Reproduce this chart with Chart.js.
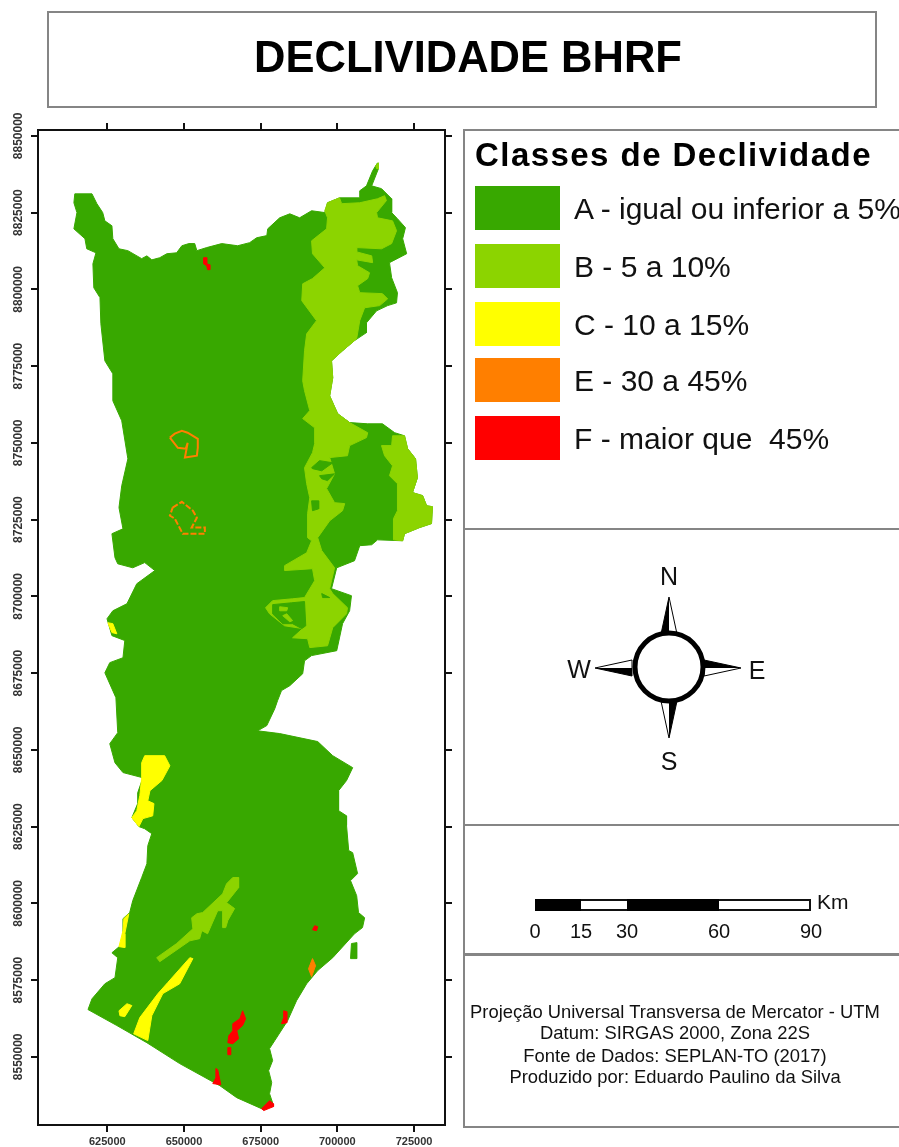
<!DOCTYPE html>
<html lang="pt">
<head>
<meta charset="utf-8">
<title>Declividade BHRF</title>
<script src="https://cdn.jsdelivr.net/npm/chart.js@4/dist/chart.umd.min.js"></script>
<style>
html, body { margin: 0; padding: 0; background: #fff; }
#page { position: relative; width: 899px; height: 1147px; overflow: hidden; font-family: "Liberation Sans", Arial, sans-serif; color: #111; filter: blur(0.4px); }
#page canvas { position: absolute; left: 0; top: 0; }
.box { position: absolute; box-sizing: border-box; border: 2px solid #858585; background: transparent; }
.txt { position: absolute; white-space: nowrap; line-height: 1; }
.swatch { position: absolute; left: 475px; width: 85px; height: 44px; }
.mid { transform: translate(-50%, -50%); }
</style>
</head>
<body>
<div id="page">
    <canvas id="mapa" width="899" height="1147"></canvas>
    <div class="box" style="left:47px;top:11px;width:830px;height:97px"></div>
    <div class="txt mid" style="left:468px;top:58px;font-size:43.5px;font-weight:bold;color:#000">DECLIVIDADE BHRF</div>
    <div class="box" style="left:463px;top:129px;width:460px;height:999px"></div>
    <div class="box" style="left:463px;top:528px;width:460px;height:2px;border-width:1px 0"></div>
    <div class="box" style="left:463px;top:824px;width:460px;height:2px;border-width:1px 0"></div>
    <div class="box" style="left:463px;top:953px;width:460px;height:3px;border-width:2px 0 1px"></div>
    <div id="legenda"></div>
    <svg style="position:absolute;left:0;top:0" width="899" height="1147">
        <g stroke="#000" stroke-width="1" fill="#fff">
            <path d="M669 597 L661 634 L677 634 Z"/>
            <path d="M669 738 L661 701 L677 701 Z"/>
            <path d="M595 668 L632 660 L632 676 Z"/>
            <path d="M741 668 L704 660 L704 676 Z"/>
        </g>
        <g fill="#000">
            <path d="M669 597 L661 634 L669 634 Z"/>
            <path d="M669 738 L677 701 L669 701 Z"/>
            <path d="M595 668 L632 676 L632 668 Z"/>
            <path d="M741 668 L704 660 L704 668 Z"/>
        </g>
        <circle cx="669" cy="667" r="34" fill="#fff" stroke="#000" stroke-width="5"/>
    </svg>
    <div class="txt mid" style="left:669px;top:576px;font-size:25px">N</div>
    <div class="txt mid" style="left:669px;top:761px;font-size:25px">S</div>
    <div class="txt mid" style="left:579px;top:669px;font-size:25px">W</div>
    <div class="txt mid" style="left:757px;top:670px;font-size:25px">E</div>
    <div id="escala"></div>
    <div class="txt" style="left:817px;top:891px;font-size:21px">Km</div>
    <div id="notas"></div>
</div>

<script>
// Eixos (coordenadas UTM em km)
const xTicks = [625, 650, 675, 700, 725];
const yTicks = [8550, 8575, 8600, 8625, 8650, 8675, 8700, 8725, 8750, 8775, 8800, 8825, 8850];
const xRange = [602.4, 735.1];
const yRange = [8527.8, 8851.9];

// Legenda
const classes = ['A - igual ou inferior a 5%', 'B - 5 a 10%', 'C - 10 a 15%', 'E - 30 a 45%', 'F - maior que  45%'];
const classColors = ['#38a800', '#8cd400', '#ffff00', '#ff7f00', '#ff0000'];
const scaleStops = [0, 15, 30, 60, 90];
const notes = ['Projeção Universal Transversa de Mercator - UTM', 'Datum: SIRGAS 2000, Zona 22S', 'Fonte de Dados: SEPLAN-TO (2017)', 'Produzido por: Eduardo Paulino da Silva'];

// Classe A - contorno da bacia
const contorno = [[614.4,8831.1],[620.0,8831.1],[621.6,8827.9],[623.5,8825.0],[624.2,8822.3],[626.5,8820.7],[626.8,8816.5],[628.8,8813.2],[631.7,8812.6],[636.2,8810.0],[637.9,8810.9],[639.5,8809.6],[642.1,8810.3],[644.4,8811.6],[647.6,8811.9],[649.3,8814.2],[651.6,8814.9],[653.5,8814.9],[654.2,8812.6],[657.4,8813.6],[662.3,8814.9],[667.5,8814.2],[671.4,8815.2],[673.7,8816.8],[677.0,8817.5],[677.3,8819.7],[681.2,8823.3],[684.5,8824.6],[687.7,8823.3],[691.6,8825.6],[695.9,8825.0],[696.8,8828.2],[700.7,8829.8],[707.3,8829.8],[707.3,8832.1],[709.5,8833.7],[711.5,8838.6],[713.1,8841.2],[713.4,8839.3],[711.2,8833.7],[714.4,8832.8],[717.7,8829.5],[717.7,8825.0],[719.6,8823.0],[722.2,8820.1],[721.3,8816.5],[722.6,8811.6],[717.0,8808.7],[717.7,8803.8],[719.6,8798.9],[719.3,8795.6],[716.4,8794.7],[712.8,8793.0],[709.5,8789.1],[709.5,8785.9],[705.6,8783.3],[701.7,8780.0],[698.1,8776.7],[698.5,8771.2],[697.5,8765.3],[700.1,8759.5],[704.0,8756.6],[709.9,8756.2],[714.7,8756.2],[718.7,8753.3],[721.9,8752.3],[722.9,8748.1],[725.5,8744.8],[726.1,8738.6],[724.5,8733.8],[727.8,8732.8],[729.1,8729.5],[731.0,8729.2],[730.7,8723.7],[726.8,8722.4],[721.9,8720.4],[721.3,8718.1],[713.1,8718.4],[711.2,8716.8],[707.3,8716.5],[705.6,8711.6],[699.8,8709.3],[698.1,8702.5],[704.6,8700.2],[704.0,8695.3],[701.7,8691.1],[699.8,8682.3],[691.6,8680.7],[689.3,8679.0],[688.7,8674.8],[684.5,8670.9],[681.8,8669.3],[680.5,8666.0],[679.6,8663.4],[677.0,8657.9],[674.0,8656.2],[681.2,8655.3],[693.6,8652.7],[698.5,8648.1],[705.0,8644.2],[703.0,8640.0],[700.4,8636.7],[700.4,8630.2],[703.0,8628.5],[703.0,8625.3],[703.7,8617.2],[705.0,8616.5],[706.6,8609.7],[704.3,8607.4],[706.3,8602.5],[706.9,8597.0],[708.9,8595.3],[708.2,8592.1],[705.6,8590.1],[698.5,8582.3],[693.6,8578.1],[690.0,8573.8],[686.7,8568.3],[683.8,8561.8],[679.6,8555.3],[677.9,8552.7],[678.9,8548.8],[677.6,8545.5],[678.6,8541.6],[677.9,8538.0],[679.2,8534.1],[676.0,8532.8],[667.2,8536.7],[661.7,8540.6],[648.6,8547.8],[637.9,8554.6],[628.1,8560.2],[618.7,8565.4],[620.0,8568.9],[624.2,8573.8],[627.5,8575.8],[628.4,8582.3],[626.5,8583.9],[630.1,8586.9],[630.1,8595.0],[632.3,8597.0],[633.3,8600.9],[636.2,8608.4],[637.9,8612.9],[638.2,8618.8],[639.5,8622.7],[637.2,8624.3],[635.3,8625.0],[633.0,8627.9],[634.9,8632.5],[634.9,8636.0],[636.6,8640.9],[630.1,8642.6],[627.5,8645.8],[625.8,8652.0],[628.4,8655.6],[627.8,8667.0],[624.2,8675.1],[625.8,8678.4],[630.1,8680.0],[630.7,8685.6],[626.5,8687.2],[624.9,8692.7],[626.8,8695.3],[631.4,8697.6],[634.6,8704.1],[640.5,8708.4],[637.2,8711.0],[633.3,8709.3],[628.4,8710.6],[627.5,8712.6],[626.5,8720.4],[630.1,8722.0],[628.8,8728.9],[629.7,8736.0],[631.7,8744.8],[629.7,8757.2],[626.8,8763.7],[626.8,8772.5],[624.2,8776.7],[622.9,8788.8],[622.6,8797.3],[620.6,8800.5],[620.3,8808.3],[621.3,8811.9],[618.3,8813.2],[617.7,8816.5],[614.1,8819.7],[615.1,8825.0],[614.1,8828.2]];
const ilhaLeste = [[704.6,8586.9],[706.3,8587.2],[706.3,8582.0],[704.3,8582.0]];

// Classe B
const faixaNorte = [[696.8,8828.2],[700.7,8829.8],[701.4,8827.9],[707.3,8828.2],[713.1,8829.5],[715.4,8830.5],[716.0,8828.9],[712.8,8825.0],[713.1,8823.3],[718.0,8822.3],[719.3,8819.1],[717.7,8814.9],[714.4,8813.2],[706.3,8813.6],[706.3,8812.2],[711.2,8810.9],[711.5,8808.7],[706.3,8809.6],[706.6,8807.7],[710.5,8805.4],[709.9,8803.5],[706.6,8801.2],[707.3,8798.9],[714.7,8798.6],[716.4,8796.9],[713.8,8794.7],[708.9,8794.0],[707.3,8789.8],[706.3,8783.9],[701.7,8780.0],[698.1,8776.7],[698.5,8771.2],[697.5,8765.3],[700.1,8759.5],[704.0,8756.6],[709.9,8753.3],[709.5,8751.7],[704.0,8749.1],[703.3,8745.8],[697.5,8745.2],[699.1,8739.9],[696.5,8735.1],[699.1,8730.5],[702.4,8730.2],[701.7,8727.9],[697.5,8724.6],[693.6,8719.1],[694.9,8714.9],[699.1,8709.3],[698.1,8705.1],[697.5,8702.5],[698.5,8700.9],[703.3,8696.3],[703.0,8694.3],[698.5,8689.8],[696.8,8683.9],[691.0,8683.3],[690.3,8686.2],[685.4,8686.5],[688.7,8689.5],[682.8,8690.4],[677.9,8694.3],[676.6,8696.3],[678.9,8698.6],[685.4,8699.2],[689.3,8699.6],[692.6,8705.1],[691.9,8709.0],[682.8,8708.4],[682.8,8710.0],[690.0,8714.2],[691.6,8718.1],[690.3,8719.1],[690.3,8726.9],[691.0,8732.1],[690.0,8736.7],[689.3,8741.9],[691.9,8746.8],[692.6,8749.7],[692.6,8754.9],[688.7,8757.9],[691.0,8760.5],[689.3,8767.0],[688.7,8770.2],[689.3,8780.0],[690.0,8785.5],[693.2,8789.8],[688.4,8796.3],[688.7,8801.8],[691.9,8803.5],[695.9,8807.0],[691.9,8811.6],[691.6,8815.8],[696.5,8819.7],[696.8,8823.3],[695.9,8825.6]];
const faixaLeste = [[718.0,8752.3],[721.9,8752.3],[722.9,8748.1],[725.5,8744.8],[726.1,8738.6],[724.5,8733.8],[727.8,8732.8],[729.1,8729.5],[731.0,8729.2],[730.7,8723.7],[726.8,8722.4],[721.9,8720.4],[721.3,8718.1],[718.3,8718.4],[718.3,8725.3],[719.6,8727.9],[719.6,8736.7],[717.0,8739.3],[718.0,8742.5],[715.4,8745.8],[714.4,8749.1],[717.7,8749.1]];
const pontaNorte = [[712.5,8840.3],[713.4,8841.2],[713.4,8839.3],[712.8,8839.3]];
const faixaSul = [[641.1,8582.3],[647.6,8586.9],[652.9,8591.7],[652.5,8595.3],[654.2,8596.6],[656.1,8597.0],[662.6,8603.1],[663.9,8606.4],[665.9,8608.4],[667.8,8608.4],[667.8,8605.1],[663.9,8600.2],[666.5,8598.3],[664.3,8594.4],[663.6,8592.1],[662.6,8592.1],[662.6,8597.6],[661.0,8597.6],[657.7,8590.1],[655.8,8591.1],[655.1,8588.5],[651.9,8587.8],[642.1,8581.0]];
const manchaB1 = [[681.2,8696.6],[683.8,8696.3],[683.5,8695.3],[681.2,8695.3]];
const manchaB2 = [[683.5,8694.3],[685.4,8692.1],[684.5,8691.7],[682.2,8693.7]];

// Classe A dentro da classe B
const miolo1 = [[678.9,8697.3],[685.1,8697.9],[689.3,8698.3],[689.7,8690.4],[688.4,8689.5],[685.4,8691.1],[682.2,8691.1],[678.9,8694.3]];
const miolo2 = [[691.6,8741.9],[694.2,8744.2],[698.5,8743.5],[694.9,8740.9],[691.9,8741.6]];
const miolo3 = [[694.2,8739.3],[699.1,8739.9],[696.8,8737.7],[694.9,8738.3]];
const miolo4 = [[691.6,8731.1],[693.9,8731.1],[693.9,8728.5],[691.9,8727.9]];
const miolo5 = [[694.9,8700.9],[697.5,8699.6],[695.2,8699.6]];

// Classe C
const amarelo1 = [[637.2,8648.1],[643.7,8648.1],[645.4,8644.8],[642.8,8640.0],[638.9,8636.7],[638.2,8633.4],[640.2,8632.5],[639.8,8628.5],[636.6,8627.6],[635.3,8625.0],[633.0,8627.9],[634.6,8630.2],[635.6,8635.1],[636.2,8640.9],[636.2,8645.8]];
const amarelo2 = [[630.4,8595.0],[632.0,8596.6],[630.7,8590.1],[630.7,8585.6],[628.8,8585.9],[630.1,8591.1]];
const amarelo3 = [[628.8,8565.0],[631.4,8567.3],[633.0,8566.7],[630.7,8563.1],[629.1,8563.4]];
const amarelo4 = [[651.9,8582.3],[652.9,8582.0],[648.6,8573.8],[643.1,8570.6],[639.5,8563.4],[638.2,8555.3],[633.6,8557.5],[635.6,8562.8],[641.5,8570.6],[644.7,8574.2]];
const amarelo5 = [[625.2,8691.4],[626.8,8691.1],[628.1,8687.8],[626.5,8688.2]];

// Classe E
const laranja1 = [[691.9,8582.0],[692.9,8579.7],[691.6,8576.1],[690.6,8578.7]];
const anel1 = [[645.4,8751.7],[647.0,8753.0],[649.3,8753.9],[651.2,8753.3],[654.5,8751.3],[654.5,8748.4],[654.2,8745.8],[650.3,8745.2],[651.2,8750.0],[650.6,8748.1],[648.0,8748.4],[645.4,8751.7]];
const anel2 = [[646.3,8728.9],[649.3,8730.8],[652.9,8727.9],[654.2,8725.6],[652.5,8722.4],[656.8,8722.4],[656.8,8720.4],[649.6,8720.4],[647.0,8725.3],[645.4,8726.3],[646.3,8728.9]];

// Classe F
const vermelho0 = [[656.4,8810.3],[657.4,8810.3],[657.4,8808.3],[658.4,8808.0],[658.4,8806.4],[657.7,8806.4],[657.4,8807.7],[656.4,8808.3]];
const vermelho1 = [[669.1,8565.0],[670.1,8562.4],[669.1,8560.2],[667.2,8558.5],[667.8,8555.9],[665.9,8554.3],[664.3,8554.6],[664.6,8556.9],[665.9,8558.5],[665.9,8560.8],[668.2,8562.4]];
const vermelho2 = [[664.3,8553.0],[665.2,8553.0],[665.2,8550.7],[664.3,8550.7]];
const vermelho3 = [[682.5,8565.0],[683.5,8564.7],[683.5,8561.1],[681.8,8560.8],[682.5,8562.8]];
const vermelho4 = [[692.6,8592.7],[693.6,8592.4],[693.2,8591.1],[691.9,8591.4]];
const vermelho5 = [[660.4,8546.2],[661.0,8545.8],[662.0,8540.9],[659.4,8541.3],[660.4,8543.2]];
const vermelho6 = [[677.9,8535.7],[679.2,8534.7],[679.2,8533.8],[676.0,8532.5],[675.3,8533.1]];

// Ordem de pintura: de baixo para cima
const camadas = [
    [contorno, 0], [ilhaLeste, 0],
    [faixaNorte, 1], [faixaLeste, 1], [pontaNorte, 1], [faixaSul, 1],
    [miolo1, 0], [miolo2, 0], [miolo3, 0], [miolo4, 0], [miolo5, 0],
    [manchaB1, 1], [manchaB2, 1],
    [amarelo1, 2], [amarelo2, 2], [amarelo3, 2], [amarelo4, 2], [amarelo5, 2],
    [laranja1, 3],
    [vermelho0, 4], [vermelho1, 4], [vermelho2, 4], [vermelho3, 4], [vermelho4, 4], [vermelho5, 4], [vermelho6, 4]
];
const aneis = [[anel1, []], [anel2, [6, 2]]];

function toPoints(lista) {
    return lista.map(p => ({ x: p[0], y: p[1] }));
}

const datasets = [];
camadas.forEach((c, i) => {
    datasets.push({
        data: toPoints(c[0].concat([c[0][0]])),
        showLine: true,
        fill: 'shape',
        backgroundColor: classColors[c[1]],
        borderColor: classColors[c[1]],
        borderWidth: 1,
        pointRadius: 0,
        order: 100 - i
    });
});
aneis.forEach(a => {
    datasets.push({
        data: toPoints(a[0]),
        showLine: true,
        fill: false,
        borderColor: classColors[3],
        borderWidth: 2,
        borderDash: a[1],
        pointRadius: 0,
        order: 1
    });
});

// Escalas com marcas fixas; as de cima e da direita nao tem rotulo
function axis(position, range, ticks, size, tickFont) {
    return {
        type: 'linear',
        position: position,
        min: range[0],
        max: range[1],
        afterBuildTicks: s => { s.ticks = ticks.map(v => ({ value: v })); },
        afterFit: s => {
            if (s.isHorizontal()) s.height = size; else s.width = size;
        },
        border: { color: '#111', width: 2 },
        grid: { drawOnChartArea: false, color: '#111', lineWidth: 2, tickLength: 7, tickColor: '#111' },
        ticks: tickFont ? {
            autoSkip: false,
            padding: 3,
            color: '#333',
            font: { family: '"Liberation Sans", Arial, sans-serif', size: tickFont, weight: 'bold' },
            callback: v => String(v * 1000)
        } : { display: false }
    };
}

const yAxis = axis('left', yRange, yTicks, 38, 12);
yAxis.ticks.minRotation = 90;
yAxis.ticks.maxRotation = 90;
yAxis.ticks.crossAlign = 'center';
yAxis.ticks.padding = -11.5;

const chart = new Chart(document.getElementById('mapa'), {
    type: 'scatter',
    data: { datasets: datasets },
    options: {
        responsive: false,
        animation: false,
        layout: { padding: 0 },
        plugins: { legend: { display: false }, tooltip: { enabled: false } },
        scales: {
            x: axis('bottom', xRange, xTicks, 22, 11),
            y: yAxis,
            x2: axis('top', xRange, xTicks, 130, 0),
            y2: axis('right', yRange, yTicks, 454, 0)
        }
    }
});

// Legenda
const legenda = document.getElementById('legenda');
const swatchTops = [186, 244, 302, 358, 416];
let html = '<div class="txt" style="left:475px;top:138px;font-size:33px;font-weight:bold;letter-spacing:1.45px;color:#000">Classes de Declividade</div>';
classes.forEach((nome, i) => {
    html += '<div class="swatch" style="top:' + swatchTops[i] + 'px;background:' + classColors[i] + '"></div>';
    html += '<div class="txt" style="left:574px;top:' + (swatchTops[i] + 8) + 'px;font-size:30px;white-space:pre">' + nome + '</div>';
});
legenda.innerHTML = html;

// Barra de escala em km, na mesma escala do mapa
const kmPx = v => chart.scales.x.getPixelForValue(xRange[0] + v) - chart.scales.x.getPixelForValue(xRange[0]);
let barra = '<div style="position:absolute;left:535px;top:899px;width:' + kmPx(90) + 'px;height:12px;box-sizing:border-box;border:2px solid #111"></div>';
scaleStops.forEach((km, i) => {
    barra += '<div class="txt mid" style="left:' + (535 + kmPx(km)) + 'px;top:931px;font-size:20px">' + km + '</div>';
    if (i < scaleStops.length - 1 && i % 2 === 0) {
        barra += '<div style="position:absolute;left:' + (535 + kmPx(km)) + 'px;top:899px;width:' + (kmPx(scaleStops[i + 1]) - kmPx(km)) + 'px;height:12px;background:#000"></div>';
    }
});
document.getElementById('escala').innerHTML = barra;

// Notas
const notaTops = [1012, 1033, 1056, 1077];
document.getElementById('notas').innerHTML = notes.map((n, i) =>
    '<div class="txt mid" style="left:675px;top:' + notaTops[i] + 'px;font-size:18.4px">' + n + '</div>').join('');
</script>
</body>
</html>
